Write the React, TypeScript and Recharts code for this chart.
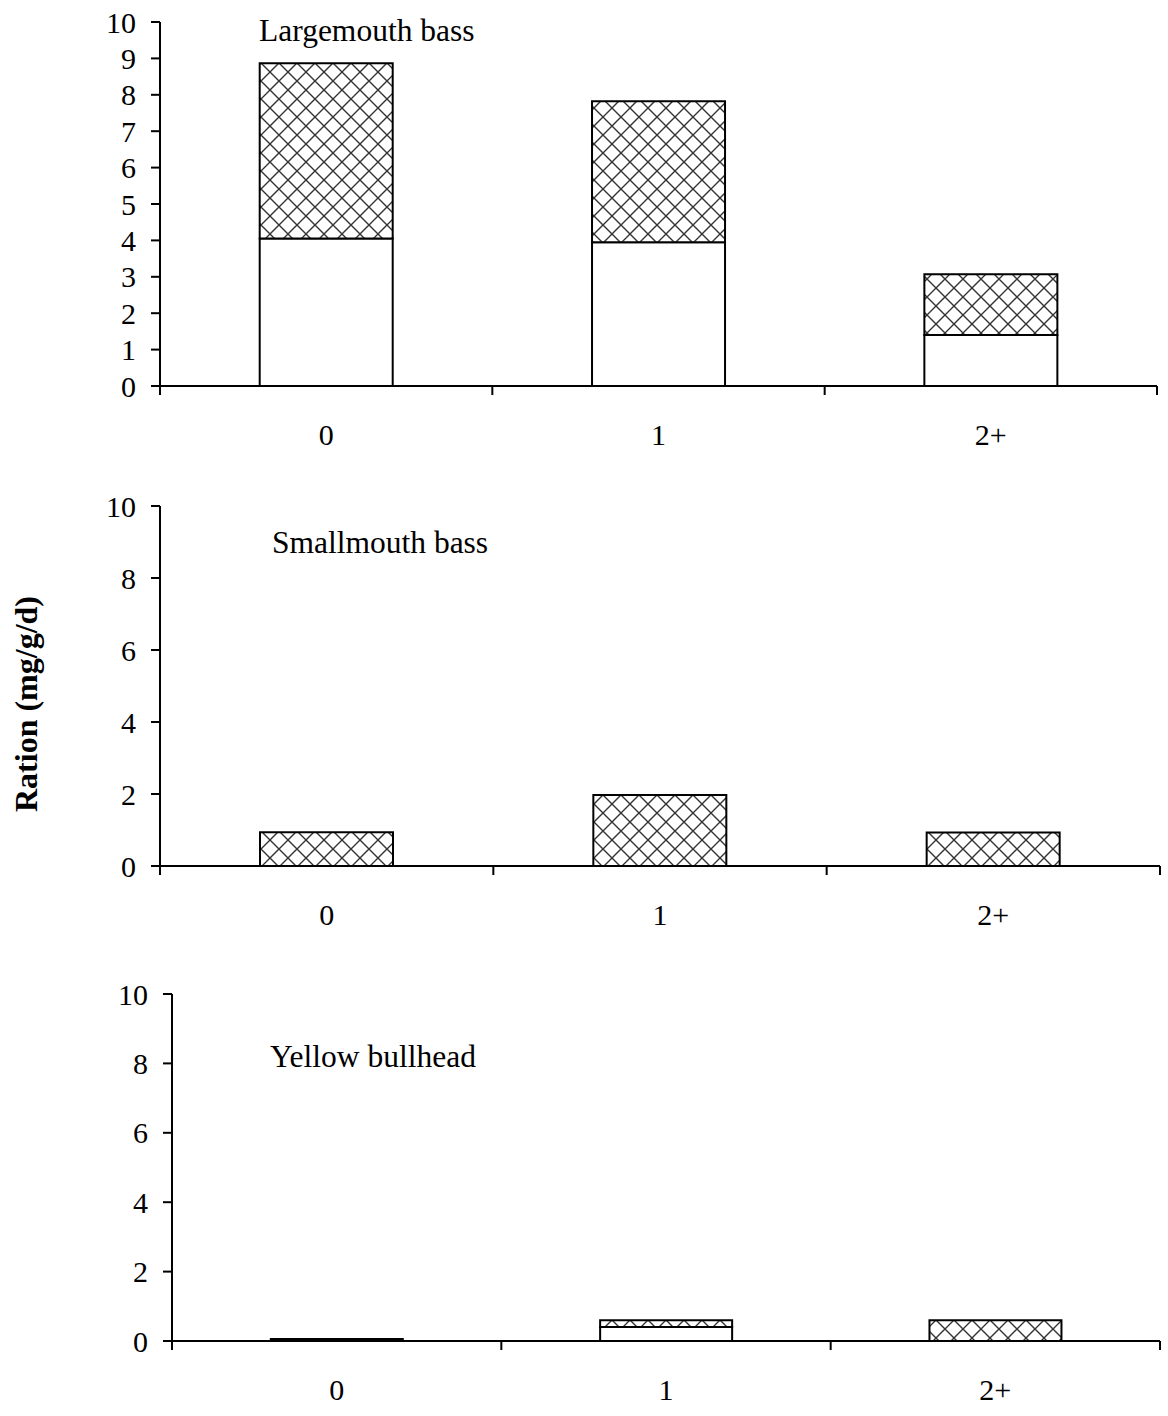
import React from 'react';
import { BarChart, Bar, XAxis, YAxis } from 'recharts';

const categories = ['0', '1', '2+'];
const largemouthLower = [4.05, 3.95, 1.4];
const largemouthUpper = [4.82, 3.87, 1.67];
const smallmouthLower = [0, 0, 0];
const smallmouthUpper = [0.94, 1.97, 0.93];
const bullheadLower = [0.06, 0.4, 0];
const bullheadUpper = [0, 0.2, 0.6];
const ticksLarge = [0, 1, 2, 3, 4, 5, 6, 7, 8, 9, 10];
const ticksSmall = [0, 2, 4, 6, 8, 10];

const FONT = '"Liberation Serif", "Times New Roman", serif';

const build = (lower: number[], upper: number[]) =>
  categories.map((c, i) => ({ cat: c, lower: lower[i], upper: upper[i] }));

const TICK_SIZE = 9;
const TICK_MARGIN = 29;

const makeXTick = (bandWidth: number) => (props: any) => {
  const { x, y, payload, index } = props;
  const axisY = y - TICK_SIZE - TICK_MARGIN;
  const left = x - bandWidth / 2;
  const right = x + bandWidth / 2;
  return (
    <g>
      <line x1={left} x2={left} y1={axisY} y2={axisY + TICK_SIZE} stroke="#000" strokeWidth={2} />
      {index === categories.length - 1 && (
        <line x1={right} x2={right} y1={axisY} y2={axisY + TICK_SIZE} stroke="#000" strokeWidth={2} />
      )}
      <text x={x} y={y} dy="0.71em" textAnchor="middle" fontFamily={FONT} fontSize={30} fill="#000">
        {payload.value}
      </text>
    </g>
  );
};

type PanelProps = {
  top: number;
  height: number;
  margin: { top: number; right: number; bottom: number; left: number };
  lower: number[];
  upper: number[];
  ticks: number[];
  id: string;
};

const WIDTH = 1168;

const Panel = ({ top, height, margin, lower, upper, ticks, id }: PanelProps) => {
  const yAxisWidth = 100;
  const plotWidth = WIDTH - margin.left - margin.right - yAxisWidth;
  const bandWidth = plotWidth / categories.length;
  return (
    <div style={{ position: 'absolute', left: 0, top }}>
      <BarChart
        width={WIDTH}
        height={height}
        data={build(lower, upper)}
        margin={margin}
        barCategoryGap="30%"
      >
        <defs>
          <pattern id={id} patternUnits="userSpaceOnUse" width={18} height={18}>
            <rect width={18} height={18} fill="#fff" />
            <path d="M0,0 L18,18 M18,0 L0,18" stroke="#333" strokeWidth={1.4} />
          </pattern>
        </defs>
        <XAxis
          dataKey="cat"
          height={60}
          axisLine={{ stroke: '#000', strokeWidth: 2 }}
          tickLine={false}
          tickSize={TICK_SIZE}
          tickMargin={TICK_MARGIN}
          tick={makeXTick(bandWidth)}
          interval={0}
        />
        <YAxis
          width={yAxisWidth}
          domain={[0, 10]}
          ticks={ticks}
          interval={0}
          axisLine={{ stroke: '#000', strokeWidth: 2 }}
          tickLine={{ stroke: '#000', strokeWidth: 2 }}
          tickSize={TICK_SIZE}
          tickMargin={15}
          tick={{ fontFamily: FONT, fontSize: 30, fill: '#000' }}
        />
        <Bar dataKey="lower" stackId="a" fill="#fff" stroke="#000" strokeWidth={2} isAnimationActive={false} />
        <Bar dataKey="upper" stackId="a" fill={`url(#${id})`} stroke="#000" strokeWidth={2} isAnimationActive={false} />
      </BarChart>
    </div>
  );
};

export default function App() {
  return (
    <div style={{ position: 'absolute', left: 0, top: 0, width: WIDTH, height: 1416, background: '#fff' }}>
      <Panel
        id="hatch1"
        top={0}
        height={470}
        margin={{ top: 22, right: 11, bottom: 24, left: 60 }}
        lower={largemouthLower}
        upper={largemouthUpper}
        ticks={ticksLarge}
      />
      <Panel
        id="hatch2"
        top={480}
        height={470}
        margin={{ top: 26, right: 8, bottom: 24, left: 60 }}
        lower={smallmouthLower}
        upper={smallmouthUpper}
        ticks={ticksSmall}
      />
      <Panel
        id="hatch3"
        top={960}
        height={456}
        margin={{ top: 34, right: 8, bottom: 15, left: 72 }}
        lower={bullheadLower}
        upper={bullheadUpper}
        ticks={ticksSmall}
      />
      <svg
        width={WIDTH}
        height={1416}
        style={{ position: 'absolute', left: 0, top: 0, pointerEvents: 'none' }}
      >
        <text x={259} y={41} fontFamily={FONT} fontSize={31.5} fill="#000">Largemouth bass</text>
        <text x={272} y={553} fontFamily={FONT} fontSize={31.5} fill="#000">Smallmouth bass</text>
        <text x={270} y={1067} fontFamily={FONT} fontSize={31.5} fill="#000">Yellow bullhead</text>
        <text
          transform="translate(37,704) rotate(-90)"
          textAnchor="middle"
          fontFamily={FONT}
          fontSize={32}
          fontWeight="bold"
          fill="#000"
        >
          Ration (mg/g/d)
        </text>
      </svg>
    </div>
  );
}
